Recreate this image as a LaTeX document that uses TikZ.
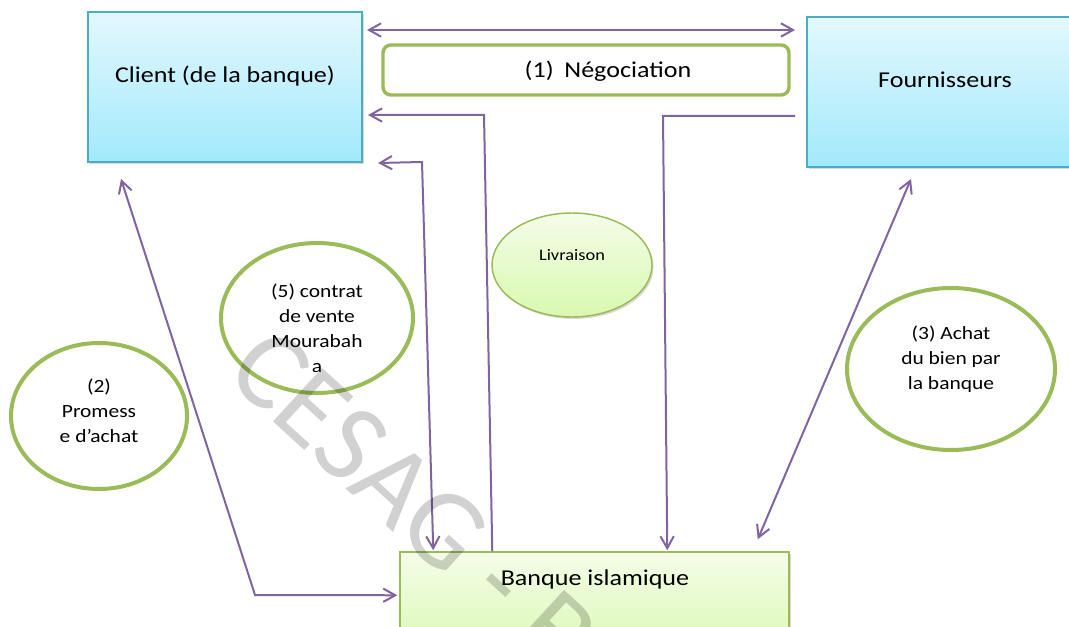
\documentclass[tikz,border=0pt]{standalone}
\usepackage{fontspec}
\setmainfont{Carlito}[FakeStretch=1.15]
\newfontfamily\wmfont{Carlito}
\usetikzlibrary{arrows.meta,shapes.geometric,shadows,calc}
\definecolor{purp}{HTML}{8064A2}
\definecolor{cyanborder}{HTML}{4BACC6}
\definecolor{cyantop}{HTML}{E3F8FD}
\definecolor{cyanbot}{HTML}{A2E9FC}
\definecolor{grn}{HTML}{9BBB59}
\definecolor{grntop}{HTML}{F4FDE8}
\definecolor{grnbot}{HTML}{D9F8B0}
\tikzset{
  bluebox/.style={rectangle, draw=cyanborder, line width=1.5pt, top color=cyantop, bottom color=cyanbot,
    minimum width=205.5pt, minimum height=112.5pt, inner sep=0pt,
    drop shadow={shadow xshift=1.2pt, shadow yshift=-1.5pt, opacity=0.3}},
  greenbox/.style={rectangle, draw=grn, line width=1.1pt, top color=grntop, bottom color=grnbot,
    inner sep=0pt, drop shadow={shadow xshift=1.2pt, shadow yshift=-1.5pt, opacity=0.3}},
  ring/.style={ellipse, draw=grn, line width=3pt, fill=white, inner sep=0pt},
  boxtext/.style={font=\fontsize{17}{20}\selectfont, inner sep=0pt},
  ringtext/.style={font=\fontsize{14}{18.75}\selectfont, align=center, inner sep=0pt},
  arr/.style={draw=purp, line width=1.5pt, line join=miter},
  >={Straight Barb[length=9pt,width=10pt]}
}
\begin{document}
\begin{tikzpicture}[x=0.75pt,y=-0.75pt]
\useasboundingbox (0,0) rectangle (1069,627);
\clip (0,0) rectangle (1069,627);

% boxes
\node[bluebox] (client) at (225,87) {};
\node[boxtext] (clientt) at (225,76) {Client (de la banque)};
\node[bluebox] (four) at (944,92) {};
\node[boxtext] (fourt) at (945,80) {Fournisseurs};
\node[rectangle, rounded corners=6pt, draw=grn, line width=2.6pt, fill=white,
      minimum width=304.5pt, minimum height=37.5pt] (neg) at (586,70) {};
\node[boxtext] (negt) at (608,71) {(1)\hspace{8pt}Négociation};
\node[greenbox, minimum width=291.75pt, minimum height=81pt] (banque) at (594.5,606) {};
\node[boxtext] (banquet) at (595,579) {Banque islamique};

% ellipses
\node[ellipse, draw=grn, line width=1.1pt, top color=grntop, bottom color=grnbot,
      minimum width=120pt, minimum height=78pt, inner sep=0pt,
      drop shadow={shadow xshift=1.2pt, shadow yshift=-1.5pt, opacity=0.3}] (liv) at (572,265) {};
\node[font=\fontsize{12}{14}\selectfont, inner sep=0pt] (livt) at (572,255) {Livraison};

\node[ring, minimum width=144pt, minimum height=112.5pt] (e5) at (317,318) {};
\node[ringtext] (e5t) at (317,328) {(5) contrat\\de vente\\Mourabah\\a};
\node[ring, minimum width=132pt, minimum height=109.5pt] (e2) at (99,416) {};
\node[ringtext] (e2t) at (99,411) {(2)\\Promess\\e d’achat};
\node[ring, minimum width=156pt, minimum height=121.5pt] (e3) at (951,369) {};
\node[ringtext] (e3t) at (951,359) {(3) Achat\\du bien par\\la banque};

% bend points
\coordinate (c1) at (484,115);
\coordinate (c2) at (663,116);
\coordinate (c3) at (422,162);
\coordinate (c4) at (255,595);

% connectors
\draw[arr,<->] ($(client.east)+(4,-57)$) -- ($(four.west)+(-11,-62)$);
\draw[arr,->] ($(banque.north west)+(93,0)$) -- (c1) -- ($(client.east)+(5,28)$);
\draw[arr,->] ($(four.west)+(-11,24)$) -- (c2) -- ($(banque.north west)+(268,-1)$);
\draw[arr,<->] ($(client.south east)+(15,0)$) -- (c3) -- ($(banque.north west)+(34,-1)$);
\draw[arr,<->] ($(client.south west)+(34,16)$) -- (c4) -- ($(banque.north west)+(-2,44)$);
\draw[arr,<->] ($(four.south west)+(105,11)$) -- ($(banque.north east)+(-32,-12)$);

% watermark
\node[anchor=base west, inner sep=0pt, rotate=-42.5, text=black, text opacity=0.18,
      font=\wmfont\fontsize{85}{85}\selectfont] (wm) at (223,376) {CESAG - B};
\end{tikzpicture}
\end{document}
